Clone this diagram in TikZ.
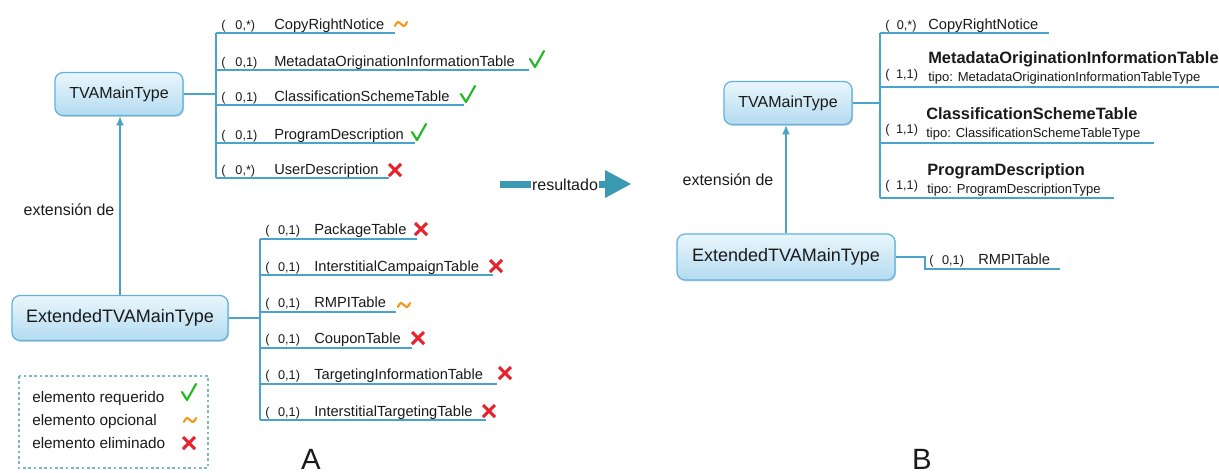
\documentclass[tikz,border=0pt]{standalone}
\usepackage{fontspec}
\setmainfont{Liberation Sans}
\usetikzlibrary{shadows,arrows.meta}

\definecolor{branchblue}{HTML}{4AA3CC}
\definecolor{boxborder}{HTML}{5DB3DE}
\definecolor{boxtop}{HTML}{EAF6FC}
\definecolor{boxbottom}{HTML}{B3DBF0}
\definecolor{arrowteal}{HTML}{4AA3C4}
\definecolor{resteal}{HTML}{3B9AB2}
\definecolor{legendedge}{HTML}{7FB8C8}
\definecolor{okgreen}{HTML}{22B822}
\definecolor{delred}{HTML}{E8202A}
\definecolor{optorange}{HTML}{F39A1E}
\definecolor{ink}{HTML}{1A1A1A}

\newcommand\cardfont{\fontsize{9.5}{11}\selectfont}
\newcommand\itemfont{\fontsize{11}{13}\selectfont}
\newcommand\bolditemfont{\fontsize{12.3}{14}\selectfont\bfseries}
\newcommand\tipofont{\fontsize{9.8}{11}\selectfont}
\newcommand\boxfont{\fontsize{12}{14}\selectfont}
\newcommand\bigboxfont{\fontsize{13.5}{16}\selectfont}
\newcommand\labelfont{\fontsize{12}{14}\selectfont}
\newcommand\legendfont{\fontsize{11.5}{13}\selectfont}
\newcommand\letterfont{\fontsize{22}{26}\selectfont}

\tikzset{
  typebox/.style={draw=boxborder, line width=0.9pt, rounded corners=6pt,
    top color=boxtop, bottom color=boxbottom, inner sep=0pt, text=ink,
    drop shadow={shadow xshift=0.8pt, shadow yshift=-1pt, opacity=0.18, fill=black}},
  branch/.style={draw=branchblue, line width=1.1pt},
  extarrow/.style={draw=arrowteal, line width=1.1pt, -{Latex[length=7pt,width=6pt]}},
  card/.style={anchor=base west, inner sep=0pt, font=\cardfont, text=ink},
  item/.style={anchor=base west, inner sep=0pt, font=\itemfont, text=ink},
  bolditem/.style={anchor=base west, inner sep=0pt, font=\bolditemfont, text=ink},
  tipo/.style={anchor=base west, inner sep=0pt, font=\tipofont, text=ink},
  plainlabel/.style={inner sep=0pt, text=ink},
  chk/.pic={\draw[okgreen, line width=1.6pt, line cap=round, line join=round]
      (-7,-1) -- (-2,7) -- (7,-9);},
  crs/.pic={\draw[delred, line width=2.3pt]
      (-6,-6) -- (6,6) (-6,6) -- (6,-6);},
  tld/.pic={\draw[optorange, line width=1.6pt, line cap=round]
      (-6,2) sin (-3,-2) cos (0,0) sin (3,2) cos (6,-2);}
}

\begin{document}
\begin{tikzpicture}[x=0.75pt, y=-0.75pt]
\useasboundingbox (0,0) rectangle (1219,472);

% ================= left diagram =================
\node[typebox, minimum width=96pt, minimum height=32.25pt, font=\boxfont]
  (tva1) at (119,94) {TVAMainType};
\node[typebox, minimum width=162pt, minimum height=33.75pt, font=\bigboxfont]
  (ext1) at (120,318) {ExtendedTVAMainType};
\draw[extarrow] (ext1.north) -- (ext1.north |- tva1.south);
\node[plainlabel, font=\labelfont] (extl1) at (69,210) {extensión de};

% children of TVAMainType
\coordinate (a1) at (216,33);  \coordinate (a1e) at (395,33);
\coordinate (a2) at (216,70);  \coordinate (a2e) at (529,70);
\coordinate (a3) at (216,105); \coordinate (a3e) at (464,105);
\coordinate (a4) at (216,143); \coordinate (a4e) at (415,143);
\coordinate (a5) at (216,178); \coordinate (a5e) at (389,178);
\draw[branch] (tva1.east) -- (tva1.east -| a1);
\draw[branch] (a1) -- (a5);
\foreach \k in {1,...,5} { \draw[branch] (a\k) -- (a\k e); }

\node[card] (a1c) at (221,29)  {(\hspace{7.5pt}0,*)};
\node[item] (a1n) at (274,29)  {CopyRightNotice};
\node[card] (a2c) at (221,66)  {(\hspace{7.5pt}0,1)};
\node[item] (a2n) at (274,66)  {MetadataOriginationInformationTable};
\node[card] (a3c) at (221,101) {(\hspace{7.5pt}0,1)};
\node[item] (a3n) at (274,101) {ClassificationSchemeTable};
\node[card] (a4c) at (221,139) {(\hspace{7.5pt}0,1)};
\node[item] (a4n) at (274,139) {ProgramDescription};
\node[card] (a5c) at (221,174) {(\hspace{7.5pt}0,*)};
\node[item] (a5n) at (274,174) {UserDescription};
\pic at (401,24)  {tld};
\pic at (537,60)  {chk};
\pic at (468,95)  {chk};
\pic at (419,133) {chk};
\pic at (395,170) {crs};

% children of ExtendedTVAMainType
\coordinate (b1) at (260,239); \coordinate (b1e) at (417,239);
\coordinate (b2) at (260,275); \coordinate (b2e) at (493,275);
\coordinate (b3) at (260,312); \coordinate (b3e) at (396,312);
\coordinate (b4) at (260,348); \coordinate (b4e) at (412,348);
\coordinate (b5) at (260,384); \coordinate (b5e) at (497,384);
\coordinate (b6) at (260,420); \coordinate (b6e) at (486,420);
\draw[branch] (ext1.east) -- (ext1.east -| b1);
\draw[branch] (b1) -- (b6);
\foreach \k in {1,...,6} { \draw[branch] (b\k) -- (b\k e); }

\node[card] (b1c) at (265,234) {(\hspace{6.5pt}0,1)};
\node[item] (b1n) at (314,234) {PackageTable};
\node[card] (b2c) at (265,271) {(\hspace{6.5pt}0,1)};
\node[item] (b2n) at (314,271) {InterstitialCampaignTable};
\node[card] (b3c) at (265,307) {(\hspace{6.5pt}0,1)};
\node[item] (b3n) at (314,307) {RMPITable};
\node[card] (b4c) at (265,343) {(\hspace{6.5pt}0,1)};
\node[item] (b4n) at (314,343) {CouponTable};
\node[card] (b5c) at (265,379) {(\hspace{6.5pt}0,1)};
\node[item] (b5n) at (314,379) {TargetingInformationTable};
\node[card] (b6c) at (265,416) {(\hspace{6.5pt}0,1)};
\node[item] (b6n) at (314,416) {InterstitialTargetingTable};
\pic at (421,229) {crs};
\pic at (496,266) {crs};
\pic at (404,305) {tld};
\pic at (418,338) {crs};
\pic at (505,373) {crs};
\pic at (489,411) {crs};

% legend
\draw[legendedge, line width=0.9pt, dash pattern=on 2pt off 2pt]
  (19,376) rectangle (208,468);
\node[plainlabel, anchor=west, font=\legendfont] (lg1) at (32,399) {elemento requerido};
\node[plainlabel, anchor=west, font=\legendfont] (lg2) at (32,422) {elemento opcional};
\node[plainlabel, anchor=west, font=\legendfont] (lg3) at (32,443) {elemento eliminado};
\pic at (189,393) {chk};
\pic at (190,420) {tld};
\pic at (189,443) {crs};

\node[plainlabel, font=\letterfont, anchor=base] (lA) at (311,469) {A};

% ================= result arrow =================
\coordinate (rs) at (500,184);
\coordinate (re) at (605,184);
\draw[resteal, line width=5.25pt] (rs) -- (re);
\fill[resteal] (605,170) -- (631,184) -- (605,198) -- cycle;
\node[fill=white, inner sep=1pt, text=ink, font=\labelfont] (res) at (565,185) {resultado};

% ================= right diagram =================
\node[typebox, minimum width=96pt, minimum height=32.25pt, font=\boxfont]
  (tva2) at (788,103) {TVAMainType};
\node[typebox, minimum width=163.5pt, minimum height=34.5pt, font=\bigboxfont]
  (ext2) at (786,257) {ExtendedTVAMainType};
\draw[extarrow] (ext2.north) -- (ext2.north |- tva2.south);
\node[plainlabel, font=\labelfont] (extl2) at (728,180) {extensión de};

\coordinate (r1) at (880,33);  \coordinate (r1e) at (1049,33);
\coordinate (r2) at (880,87);  \coordinate (r2e) at (1219,87);
\coordinate (r3) at (880,143); \coordinate (r3e) at (1154,143);
\coordinate (r4) at (880,198); \coordinate (r4e) at (1114,198);
\draw[branch] (tva2.east) -- (tva2.east -| r1);
\draw[branch] (r1) -- (r4);
\foreach \k in {1,...,4} { \draw[branch] (r\k) -- (r\k e); }

\node[card] (r1c) at (885,29) {(\hspace{5.5pt}0,*)};
\node[item] (r1n) at (928,29) {CopyRightNotice};

\node[card] (r2c) at (885,78)  {(\hspace{5pt}1,1)};
\node[bolditem] (r2n) at (928,63) {MetadataOriginationInformationTable};
\node[tipo] (r2t) at (928,81) {tipo: MetadataOriginationInformationTableType};

\node[card] (r3c) at (885,133) {(\hspace{5pt}1,1)};
\node[bolditem] (r3n) at (926,119) {ClassificationSchemeTable};
\node[tipo] (r3t) at (926,137) {tipo: ClassificationSchemeTableType};

\node[card] (r4c) at (885,189) {(\hspace{5pt}1,1)};
\node[bolditem] (r4n) at (927,175) {ProgramDescription};
\node[tipo] (r4t) at (927,193) {tipo: ProgramDescriptionType};

% single child of ExtendedTVAMainType
\coordinate (r5) at (925,269); \coordinate (r5e) at (1060,269);
\draw[branch] (ext2.east) -| (r5) -- (r5e);
\node[card] (r5c) at (929,264) {(\hspace{6.5pt}0,1)};
\node[item] (r5n) at (978,264) {RMPITable};

\node[plainlabel, font=\letterfont, anchor=base] (lB) at (922,469) {B};

\end{tikzpicture}
\end{document}
